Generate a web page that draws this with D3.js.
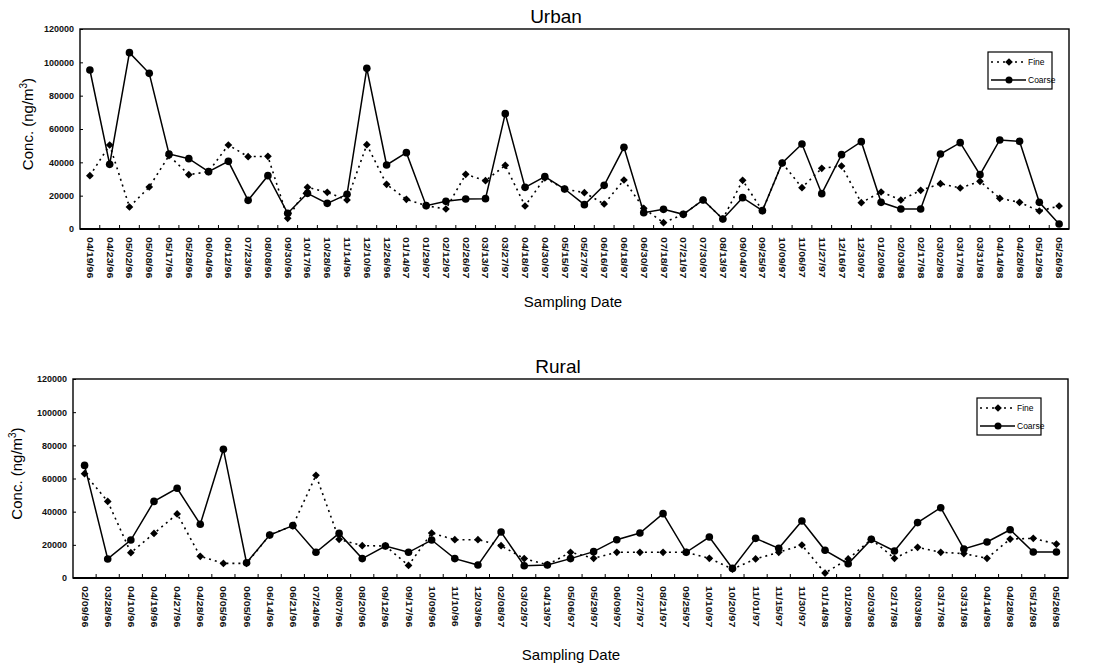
<!doctype html>
<html>
<head>
    <meta charset="UTF-8">
    <title>Urban / Rural Fine and Coarse</title>
    <script src="https://d3js.org/d3.v7.min.js" charset="utf-8"></script>
    <style>
        body { margin: 0; background: #fff; }
        * { font-family: "Liberation Sans", Arial, sans-serif; }
        .tick text { fill: #111; }
    </style>
</head>
<body>
<svg id="chart" width="1112" height="669"></svg>
<script>
    // ---- data ----
    var urbanDates = ["04/19/96","04/23/96","05/02/96","05/08/96","05/17/96","05/28/96","06/04/96","06/12/96","07/23/96","08/08/96",
        "09/30/96","10/17/96","10/28/96","11/14/96","12/10/96","12/26/96","01/14/97","01/29/97","02/12/97","02/26/97",
        "03/13/97","03/27/97","04/18/97","04/30/97","05/15/97","05/27/97","06/16/97","06/18/97","06/30/97","07/18/97",
        "07/21/97","07/30/97","08/13/97","09/04/97","09/25/97","10/09/97","11/06/97","11/27/97","12/16/97","12/30/97",
        "01/20/98","02/03/98","02/17/98","03/02/98","03/17/98","03/31/98","04/14/98","04/28/98","05/12/98","05/26/98"];
    var urbanFine = [32000,50400,13200,25200,44000,32600,34400,50400,43400,43600,
        6400,25000,22000,17400,50600,26800,17800,14000,12000,32800,
        29000,38200,13800,30600,24000,21800,15000,29400,12400,3800,
        8800,17400,6000,29200,11000,39600,24800,36400,37800,15800,
        22200,17400,23200,27200,24600,28600,18400,16000,10800,13800];
    var urbanCoarse = [95400,38800,105800,93400,45000,42200,34400,40600,17200,32000,
        9400,21400,15400,20800,96400,38400,45800,14000,16600,18000,
        18200,69200,25000,31400,24000,14600,26200,49000,9800,11800,
        8800,17400,6000,18800,11000,39600,51000,21200,44600,52400,
        16000,12000,12000,45000,51800,32600,53400,52600,16000,3000];

    var ruralDates = ["02/09/96","03/28/96","04/10/96","04/19/96","04/27/96","04/28/96","06/05/96","06/05/96 ","06/14/96","06/21/96",
        "07/24/96","08/07/96","08/20/96","09/12/96","09/17/96","10/09/96","11/10/96","12/03/96","02/08/97","03/02/97",
        "04/13/97","05/06/97","05/29/97","06/09/97","07/27/97","08/21/97","09/25/97","10/10/97","10/20/97","11/01/97",
        "11/15/97","11/30/97","01/14/98","01/20/98","02/03/98","02/17/98","03/03/98","03/17/98","03/31/98","04/14/98",
        "04/28/98","05/12/98","05/26/98"];
    var ruralFine = [62900,46200,15300,26900,38600,13100,8800,8800,25900,31600,
        61900,23300,19500,19300,7600,27100,23100,23100,19500,11700,
        8000,15500,11900,15500,15500,15500,15500,11900,5400,11500,
        15500,19900,3000,11500,23300,11900,18500,15500,14700,11900,
        23500,23900,20500];
    var ruralCoarse = [67900,11500,22900,46200,54100,32400,77600,9200,25900,31600,
        15500,26900,11700,19300,15500,22900,11700,7800,27700,7400,
        7800,11700,15900,23100,27100,38800,15500,24700,5800,23900,
        17900,34400,16700,8600,23300,16300,33400,42400,17500,21700,
        29100,15700,15700];

    var yTicks = [0,20000,40000,60000,80000,100000,120000];
    var seriesNames = ["Fine","Coarse"];

    var svg = d3.select("#chart");

    function drawPanel(p) {
        var g = svg.append("g");

        var x = d3.scaleBand().domain(p.dates).range([p.left, p.right]).padding(0);
        var y = d3.scaleLinear().domain([0,120000]).range([p.bottom, p.top]);
        var half = x.bandwidth()/2;

        // title
        g.append("text")
            .attr("x", p.titleX).attr("y", p.top - 6)
            .attr("text-anchor","middle")
            .attr("font-size", 19)
            .text(p.title);

        // y axis with inward ticks
        var yAxis = g.append("g")
            .attr("transform","translate(" + p.left + ",0)")
            .call(d3.axisLeft(y).tickValues(yTicks).tickSize(-3).tickPadding(6).tickFormat(d3.format("d")));
        yAxis.select(".domain").remove();
        yAxis.selectAll("text").attr("font-size", 9).attr("font-weight","bold");

        // x axis, labels rotated
        var xAxis = g.append("g")
            .attr("transform","translate(0," + p.bottom + ")")
            .call(d3.axisBottom(x).tickSize(0));
        xAxis.select(".domain").remove();
        xAxis.selectAll("text")
            .attr("font-size", 8.5)
            .attr("font-weight","bold")
            .attr("x", 0).attr("y", 0).attr("dy", 0)
            .attr("transform","rotate(90) translate(8,3) scale(1.25,1)")
            .style("text-anchor","start");

        // small tick marks at category boundaries
        g.selectAll(".btick")
            .data(p.dates.slice(1))
            .enter().append("line")
                .attr("class","btick")
                .attr("x1", function(d) { return x(d); })
                .attr("x2", function(d) { return x(d); })
                .attr("y1", p.bottom)
                .attr("y2", p.bottom - 4)
                .attr("stroke","#000")
                .attr("stroke-width", 1);

        // frame
        g.append("rect")
            .attr("x", p.left).attr("y", p.top)
            .attr("width", p.right - p.left).attr("height", p.bottom - p.top)
            .attr("fill","none").attr("stroke","#000").attr("stroke-width", 1.4);
        g.append("line")
            .attr("x1", p.left).attr("x2", p.right)
            .attr("y1", p.bottom).attr("y2", p.bottom)
            .attr("stroke","#000").attr("stroke-width", 2.2);

        var line = d3.line()
            .x(function(d, i) { return x(p.dates[i]) + half; })
            .y(function(d) { return y(d); });

        // fine (dotted)
        g.append("path")
            .datum(p.fine)
            .attr("d", line)
            .attr("fill","none").attr("stroke","#000")
            .attr("stroke-width", 1.6)
            .attr("stroke-dasharray","2,4");
        // coarse (solid)
        g.append("path")
            .datum(p.coarse)
            .attr("d", line)
            .attr("fill","none").attr("stroke","#000")
            .attr("stroke-width", 1.5);

        var diamond = d3.symbol().type(d3.symbolSquare).size(30);
        g.selectAll(".fineMark")
            .data(p.fine)
            .enter().append("path")
                .attr("class","fineMark")
                .attr("d", diamond)
                .attr("transform", function(d, i) {
                    return "translate(" + (x(p.dates[i]) + half) + "," + y(d) + ") rotate(45)";
                })
                .attr("fill","#000");
        g.selectAll(".coarseMark")
            .data(p.coarse)
            .enter().append("circle")
                .attr("class","coarseMark")
                .attr("cx", function(d, i) { return x(p.dates[i]) + half; })
                .attr("cy", function(d) { return y(d); })
                .attr("r", 3.8)
                .attr("fill","#000");

        // axis titles
        var yt = g.append("text")
            .attr("transform","translate(" + p.yTitleX + "," + ((p.top + p.bottom)/2 - 5) + ") rotate(-90)")
            .attr("text-anchor","middle")
            .attr("font-size", 15);
        yt.append("tspan").text("Conc. (ng/m");
        yt.append("tspan").attr("font-size", 10).attr("dy", -6).text("3");
        yt.append("tspan").attr("dy", 6).text(")");

        g.append("text")
            .attr("x", p.xTitleX).attr("y", p.xTitleY)
            .attr("text-anchor","middle")
            .attr("font-size", 15)
            .text("Sampling Date");

        // legend
        var lg = g.append("g").attr("transform","translate(" + p.legX + "," + p.legY + ")");
        lg.append("rect")
            .attr("width", 64).attr("height", 37)
            .attr("fill","#fff").attr("stroke","#000").attr("stroke-width", 1.2);
        seriesNames.forEach(function(name, i) {
            var ly = 10 + i*18;
            lg.append("line")
                .attr("x1", 3).attr("x2", 38).attr("y1", ly).attr("y2", ly)
                .attr("stroke","#000").attr("stroke-width", 1.4)
                .attr("stroke-dasharray", i == 0 ? "2,4" : null);
            if (i == 0) {
                lg.append("path").attr("d", diamond)
                    .attr("transform","translate(21," + ly + ") rotate(45)");
            } else {
                lg.append("circle").attr("cx", 21).attr("cy", ly).attr("r", 3.5);
            }
            lg.append("text")
                .attr("x", 40).attr("y", ly + 3)
                .attr("font-size", 8.5)
                .text(name);
        });
    }

    drawPanel({
        title: "Urban", dates: urbanDates, fine: urbanFine, coarse: urbanCoarse,
        left: 80, right: 1069, top: 29, bottom: 229,
        titleX: 556, yTitleX: 33, xTitleX: 573, xTitleY: 307,
        legX: 988, legY: 52
    });
    drawPanel({
        title: "Rural", dates: ruralDates, fine: ruralFine, coarse: ruralCoarse,
        left: 73, right: 1068, top: 379, bottom: 578,
        titleX: 558, yTitleX: 22, xTitleX: 571, xTitleY: 660,
        legX: 977, legY: 398
    });
</script>
</body>
</html>
